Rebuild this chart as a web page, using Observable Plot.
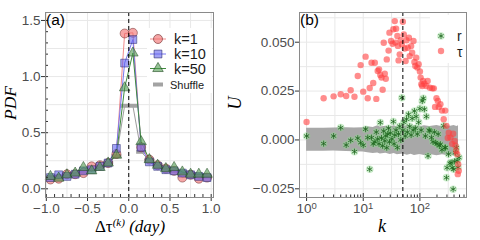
<!DOCTYPE html>
<html><head><meta charset="utf-8">
<script src="https://cdn.jsdelivr.net/npm/d3@7"></script>
<script src="https://cdn.jsdelivr.net/npm/@observablehq/plot@0.6"></script>
<style>
body{margin:0;background:#fff;}
#wrap{position:relative;width:480px;height:240px;overflow:hidden;background:#fff;}
#wrap svg{position:absolute;top:0;overflow:visible;}
</style></head><body><div id="wrap"></div>
<script>
// ---------- Panel (a) data ----------
const dtBins = [-0.95,-0.85,-0.75,-0.65,-0.55,-0.45,-0.35,-0.25,-0.15,-0.05,0.05,0.15,0.25,0.35,0.45,0.55,0.65,0.75,0.85,0.95];
const pdfK1 = [0.083,0.09,0.13,0.13,0.14,0.20,0.21,0.23,0.31,1.384,1.39,0.37,0.26,0.21,0.18,0.16,0.10,0.125,0.09,0.10];
const pdfK10 = [0.10,0.125,0.11,0.13,0.16,0.17,0.20,0.23,0.36,1.12,1.33,0.37,0.24,0.20,0.17,0.16,0.14,0.125,0.11,0.10];
const pdfK50 = [0.11,0.095,0.125,0.14,0.19,0.16,0.19,0.23,0.30,0.90,1.21,0.42,0.26,0.21,0.18,0.19,0.15,0.13,0.13,0.13];
const pdfShuffle = [0.10,0.11,0.12,0.13,0.15,0.17,0.20,0.23,0.29,0.74,0.74,0.33,0.25,0.21,0.18,0.16,0.15,0.13,0.12,0.11];
const seriesA = ["k=1","k=10","k=50","Shuffle"];
const ticksAx = [-1,-0.5,0,0.5,1];
const ticksAy = [0,0.5,1,1.5];
const gridAx = [-1,-0.75,-0.5,-0.25,0,0.25,0.5,0.75,1];
const gridAy = [0,0.25,0.5,0.75,1,1.25,1.5];
const minorAx = [-1,-0.9,-0.8,-0.7,-0.6,-0.5,-0.4,-0.3,-0.2,-0.1,0,0.1,0.2,0.3,0.4,0.5,0.6,0.7,0.8,0.9,1];
const minorAy = [0,0.1,0.2,0.3,0.4,0.5,0.6,0.7,0.8,0.9,1,1.1,1.2,1.3,1.4,1.5];
const dtMark = 0;

// ---------- Panel (b) data ----------
const kTau = [1,2,3,4,5,6,7,8,9,10,11,12,13,14,15,16,17,18,19,20,21,22,23,24,25,26,28,29,31,33,34,36,37,38,40,41,42,44,46,48,50,52,54,56,58,61,64,66,70,73,77,80,83,86,90,95,100,103,106,110,114,120,130,137,150,165,176,185,196,207,215,230,245,263,280,294,310,323,346,370,386,410,425,437,455,466,474,485];
const uTau = [0.0092,0.0213,0.0223,0.0234,0.0225,0.0254,0.0221,0.0327,0.0383,0.0247,0.0426,0.0213,0.0266,0.0395,0.0291,0.0395,0.021,0.0353,0.036,0.0332,0.0319,0.0257,0.0497,0.0339,0.0313,0.0412,0.0457,0.0549,0.0506,0.0492,0.0566,0.0608,0.0498,0.0569,0.0532,0.0481,0.0407,0.0438,0.051,0.049,0.0605,0.054,0.0468,0.0404,0.051,0.0472,0.0523,0.0429,0.048,0.0446,0.0506,0.0399,0.0378,0.0421,0.037,0.0387,0.035,0.0319,0.0285,0.0276,0.0302,0.0288,0.0276,0.0302,0.0267,0.0264,0.0264,0.0169,0.0213,0.0199,0.0169,0.0183,0.015,0.0106,0.015,0.0072,0.001,0.0037,0.0012,-0.002,0.0032,-0.0005,-0.003,-0.0056,-0.0073,-0.0175,-0.0124,-0.0158];
const kR = [1,2,3,4,5,6,7,8,9,10,11,12,13,14,15,16,17,18,19,20,21,22,23,24,25,26,27,28,29,30,32,34,35,36,38,40,42,44,46,48,50,52,55,58,60,63,66,70,73,76,80,83,86,90,95,100,105,110,115,120,125,130,139,145,150,160,170,180,190,200,210,220,230,245,263,275,283,294,301,320,340,356,372,386,395,410,424,440,455,470,490];
const uR = [0.002,-0.0019,0.002,0.0063,-0.0026,-0.0002,-0.006,0.0009,-0.0014,-0.0027,0.0055,0.0012,-0.015,0.0012,-0.002,-0.001,0.004,0.0005,-0.002,0.0089,0.001,-0.003,0.0045,-0.0005,0.002,-0.004,0.003,0.006,-0.001,0.0035,0.0005,0.0094,-0.002,0.0025,0.005,-0.0039,0.003,0.007,0.0,0.0216,0.005,0.009,0.002,0.0106,0.004,0.0131,0.007,0.0025,0.011,0.005,0.0148,0.006,0.012,0.003,0.009,0.016,0.005,0.0199,0.0213,0.0157,0.002,0.012,-0.0082,0.005,0.0046,0.0012,-0.001,0.004,-0.0014,-0.002,0.003,-0.003,-0.0022,-0.005,0.0072,-0.004,-0.0039,-0.0193,-0.0142,-0.0073,-0.012,-0.0116,-0.0142,-0.0252,-0.015,-0.011,-0.0065,-0.004,-0.0107,-0.014,-0.009];
const bandK = [1,2,3,5,7,10,12,15,18,20,25,30,35,40,50,60,70,80,100,120,150,200,250,300,350,400,450,480];
const bandHi = [0.0060,0.0060,0.0061,0.0062,0.0061,0.0062,0.0068,0.0064,0.0072,0.0066,0.0070,0.0065,0.0072,0.0068,0.0066,0.0074,0.0068,0.0072,0.0067,0.0073,0.0069,0.0074,0.0068,0.0073,0.0070,0.0074,0.0069,0.0072];
const bandLo = [-0.0058,-0.0058,-0.0057,-0.0059,-0.0060,-0.0062,-0.0066,-0.0070,-0.0067,-0.0072,-0.0068,-0.0074,-0.0070,-0.0076,-0.0072,-0.0078,-0.0073,-0.0079,-0.0075,-0.0080,-0.0074,-0.0081,-0.0076,-0.0080,-0.0077,-0.0082,-0.0076,-0.0080];
const seriesB = ["r","τ"];
const ticksBx = [1,10,100];
const ticksBy = [-0.025,0,0.025,0.05];
const gridBx = [1,3.1623,10,31.623,100,316.23];
const gridBy = [-0.025,-0.0125,0,0.0125,0.025,0.0375,0.05,0.0625];
const minorBx = [2,3,4,5,6,7,8,9,20,30,40,50,60,70,80,90,200,300,400,500,600];
const kMark = 50;

// ---------- styling ----------
const SANS = "'Liberation Sans', Arial, Helvetica, sans-serif";
const SERIF = "'Liberation Serif', 'Times New Roman', serif";
const TICK = "#4d4d4d", GRID = "#e8e8e8", FRAME = "#8a8a8a";
const colA = {
  "k=1": {fill:"#f06b6b", stroke:"#6b2a2a", line:"#f28c8c", symbol:"circle", r:4.5},
  "k=10": {fill:"#6464ee", stroke:"#2a2a6b", line:"#7777f2", symbol:"square", r:4.4},
  "k=50": {fill:"#4f9a4f", stroke:"#1f4a1f", line:"#3f8a3f", symbol:"triangle", r:3.9}
};
const barSymbol = {draw(ctx, size){ const s = Math.sqrt(size/Math.PI); ctx.rect(-1.25*s,-0.5*s,2.5*s,s); }};

const rowsA = dtBins.map((x,i)=>({x, "k=1":pdfK1[i], "k=10":pdfK10[i], "k=50":pdfK50[i], "Shuffle":pdfShuffle[i]}));
const rowsTau = kTau.map((k,i)=>({k, u:uTau[i]}));
const rowsR = kR.map((k,i)=>({k, u:uR[i]}));
const rowsBand = bandK.map((k,i)=>({k, lo:bandLo[i], hi:bandHi[i]}));

const fmt1 = d3.format(".1f"), fmt3 = d3.format(".3f");

const plotA = Plot.plot({
  width: 240, height: 240,
  marginLeft: 45, marginRight: 27, marginTop: 12, marginBottom: 43,
  style: {fontFamily: SANS, background: "transparent", overflow: "visible"},
  x: {domain: [-1.01, 1.028]},
  y: {domain: [-0.0775, 1.571]},
  marks: [
    Plot.gridX(gridAx, {stroke: GRID, strokeOpacity: 1}),
    Plot.gridY(gridAy, {stroke: GRID, strokeOpacity: 1}),
    Plot.line(rowsA, {x:"x", y:"Shuffle", stroke:"#9c9c9c", strokeWidth:1}),
    Plot.dot(rowsA, {x:"x", y:"Shuffle", symbol: barSymbol, r: 4, fill:"#a3a3a3"}),
    ...["k=1","k=10","k=50"].map(s => Plot.line(rowsA, {x:"x", y:s, stroke: colA[s].line, strokeWidth: 1})),
    ...["k=1","k=10","k=50"].map(s => Plot.dot(rowsA, {x:"x", y:s, symbol: colA[s].symbol, r: colA[s].r, fill: colA[s].fill, fillOpacity: 0.6, stroke: colA[s].stroke, strokeWidth: 0.6, strokeOpacity: 0.85})),
    Plot.ruleX([dtMark], {stroke:"#000", strokeDasharray:"4,3", strokeWidth:1}),
    Plot.axisX(ticksAx, {tickSize: 4, tickPadding: 2, tickFormat: fmt1, fontSize: 13.5, fill: TICK, stroke: "#333", label: null}),
    Plot.axisX(minorAx, {tickSize: -3, tickFormat: () => "", stroke: "#333", label: null}),
    Plot.axisY(ticksAy, {tickSize: 4, tickPadding: 1, tickFormat: fmt1, fontSize: 13.5, fill: TICK, stroke: "#333", label: null}),
    Plot.axisY(minorAy, {tickSize: -3, tickFormat: () => "", stroke: "#333", label: null}),
    Plot.frame({stroke: FRAME, strokeWidth: 1})
  ]
});

const plotB = Plot.plot({
  width: 255, height: 240,
  marginLeft: 74, marginRight: 14, marginTop: 12, marginBottom: 43,
  style: {fontFamily: SANS, background: "transparent", overflow: "visible"},
  x: {type: "log", domain: [0.75, 664]},
  y: {domain: [-0.02945, 0.0652]},
  marks: [
    Plot.gridX(gridBx, {stroke: GRID, strokeOpacity: 1}),
    Plot.gridY(gridBy, {stroke: GRID, strokeOpacity: 1}),
    Plot.areaY(rowsBand, {x:"k", y1:"lo", y2:"hi", fill:"#a8a8a8", fillOpacity: 1}),
    Plot.dot(rowsR, {x:"k", y:"u", r: 3.8, fill:"#8fd88f", fillOpacity: 0.45}),
    Plot.dot(rowsR, {x:"k", y:"u", r: 2.8, symbol:"asterisk", stroke:"#1d661d", strokeWidth: 0.8}),
    Plot.dot(rowsTau, {x:"k", y:"u", r: 3.2, fill:"#ff4040", fillOpacity: 0.6}),
    Plot.ruleX([kMark], {stroke:"#000", strokeDasharray:"4,3", strokeWidth:1}),
    Plot.axisX(ticksBx, {tickSize: 4, tickPadding: 2, tickFormat: d => String(d), fontSize: 13.5, fill: TICK, stroke: "#333", label: null}),
    Plot.axisX(ticksBx, {tickSize: -4, tickFormat: () => "", stroke: "#333", label: null}),
    Plot.axisX(minorBx, {tickSize: -2.5, tickFormat: () => "", stroke: "#333", label: null}),
    Plot.axisY(ticksBy, {tickSize: 4, tickPadding: 1, tickFormat: fmt3, fontSize: 13.5, fill: TICK, stroke: "#333", label: null}),
    Plot.frame({stroke: FRAME, strokeWidth: 1})
  ]
});

const wrap = document.getElementById("wrap");
plotA.style.left = "0px";
plotB.style.left = "225px";
wrap.appendChild(plotA);
wrap.appendChild(plotB);

// log tick labels as 10 with superscript exponent
d3.select(plotB).selectAll('g[aria-label="x-axis tick label"] text').each(function(){
  const t = d3.select(this); const v = +t.text().replace(/,/g,"");
  if (!v) return;
  const e = Math.round(Math.log10(v));
  t.text("10");
  t.append("tspan").attr("dy","-0.45em").attr("font-size","9.5px").text(String(e));
});

// ---------- annotations, legends ----------
function addText(sel, x, y, str, opts={}) {
  const t = sel.append("text").attr("x", x).attr("y", y).text(str)
    .attr("font-family", opts.family || SANS).attr("font-size", opts.size || 13)
    .attr("fill", opts.fill || "#000").attr("text-anchor", opts.anchor || "start");
  if (opts.italic) t.attr("font-style", "italic");
  if (opts.rotate) t.attr("transform", `rotate(-90 ${x} ${y})`);
  if (opts.baseline) t.attr("dominant-baseline", opts.baseline);
  return t;
}
const sA = d3.select(plotA), sB = d3.select(plotB);

// panel labels
addText(sA, 46, 25, "(a)", {size: 15.5});
addText(sB, 75, 25, "(b)", {size: 15.5});

// axis titles
addText(sA, 16, 103, "PDF", {family: SERIF, size: 17.5, italic: true, anchor: "middle", rotate: true});
const xt = sA.append("text").attr("x", 130).attr("y", 232).attr("text-anchor","middle")
  .attr("font-family", SERIF).attr("font-size", 17).attr("fill","#000");
xt.append("tspan").text("Δτ");
xt.append("tspan").attr("dy","-6").attr("font-size", 11).attr("font-style","italic").text("(k)");
xt.append("tspan").attr("dy","6").attr("font-style","italic").text(" (day)");
addText(sB, 16, 103, "U", {family: SERIF, size: 18, italic: true, anchor: "middle", rotate: true});
addText(sB, 157, 232, "k", {family: SERIF, size: 18, italic: true, anchor: "middle"});

// legend (a)
const legA = sA.insert("g", '[aria-label="frame"]');
legA.append("rect").attr("x", 147).attr("y", 28).attr("width", 65).attr("height", 65).attr("fill", "#fff");
const rowY = [39, 54, 68.5];
["k=1","k=10","k=50"].forEach((s,i) => {
  const c = colA[s];
  legA.append("line").attr("x1",150).attr("x2",166).attr("y1",rowY[i]).attr("y2",rowY[i]).attr("stroke",c.line).attr("stroke-width",1);
  const type = {circle: d3.symbolCircle, square: d3.symbolSquare, triangle: d3.symbolTriangle}[c.symbol];
  legA.append("path").attr("d", d3.symbol(type, Math.PI*c.r*c.r)()).attr("transform",`translate(158,${rowY[i]})`)
    .attr("fill", c.fill).attr("fill-opacity",0.6).attr("stroke", c.stroke).attr("stroke-width",0.6);
  addText(legA, 174, rowY[i], s, {size: 14.5, fill: "#1a1a1a", baseline: "central"});
});
legA.append("rect").attr("x",153).attr("y",82.5).attr("width",10).attr("height",4).attr("fill","#a3a3a3");
addText(legA, 170, 84.5, seriesA[3], {size: 11, fill: "#1a1a1a", baseline: "central"});

// legend (b)
const legB = sB.insert("g", '[aria-label="frame"]');
legB.append("rect").attr("x", 205).attr("y", 15).attr("width", 50).attr("height", 48).attr("fill", "#fff");
legB.append("circle").attr("cx",216).attr("cy",36).attr("r",3.8).attr("fill","#8fd88f").attr("fill-opacity",0.45);
legB.append("path").attr("d", d3.symbol(d3.symbolAsterisk, Math.PI*2.8*2.8)()).attr("transform","translate(216,36)")
  .attr("fill","none").attr("stroke","#1d661d").attr("stroke-width",0.8);
legB.append("circle").attr("cx",216).attr("cy",51).attr("r",3.2).attr("fill","#ff4040").attr("fill-opacity",0.6);
addText(legB, 232, 35.5, seriesB[0], {size: 14, fill: "#1a1a1a", baseline: "central"});
addText(legB, 232, 51.5, seriesB[1], {size: 14, fill: "#1a1a1a", baseline: "central"});
</script>
</body></html>
